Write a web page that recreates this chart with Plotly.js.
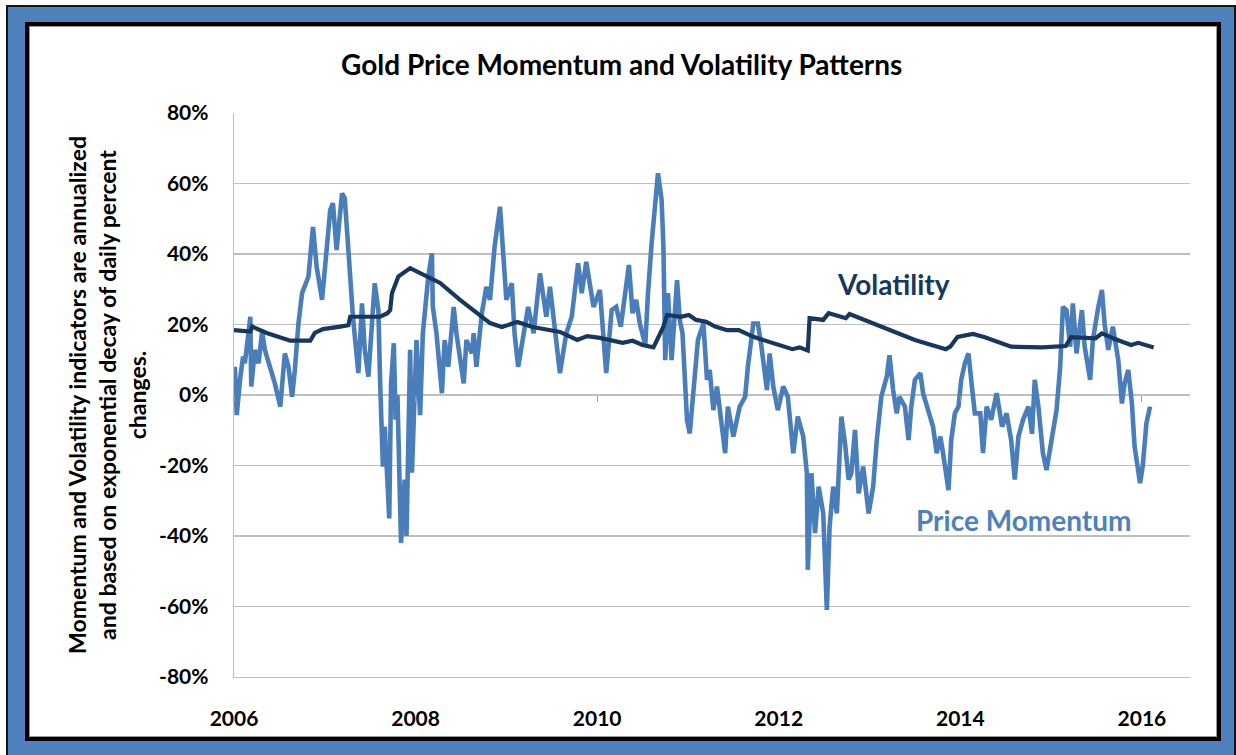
<!DOCTYPE html>
<html>
<head>
<meta charset="utf-8">
<script src="https://cdn.plot.ly/plotly-3.0.1.min.js"></script>
<style>
  html, body { margin:0; padding:0; background:#ffffff; width:1236px; height:755px; overflow:hidden; }
  #outer { position:absolute; left:6px; top:5px; width:1230px; height:800px; box-sizing:border-box;
           background:#4F81BD; border:2px solid #141414; }
  #inner { position:absolute; left:25px; top:22px; width:1196px; height:719px; box-sizing:border-box;
           background:#ffffff; border:4px solid #000000; box-shadow: inset 0 0 0 1px #9a9a9a; }
  #chart { position:absolute; left:0; top:0; width:1236px; height:755px; }
</style>
</head>
<body>
<div id="outer"></div>
<div id="inner"></div>
<div id="chart"></div>
<script>
// ---- data ----
const chartTitle = "Gold Price Momentum and Volatility Patterns";
const yTitleLines = ["Momentum and Volatility indicators are annualized",
                     "and based on exponential decay of daily percent",
                     "changes."];
const seriesNames = ["Price Momentum", "Volatility"];

const momYears = [
  2006.01,2006.03,2006.07,2006.10,2006.12,2006.16,2006.18,2006.19,2006.23,2006.27,2006.31,2006.34,2006.40,2006.45,2006.51,2006.56,2006.60,2006.64,2006.67,2006.71,2006.75,2006.82,2006.87,2006.91,2006.97,
  2007.02,2007.06,2007.09,2007.13,2007.19,2007.22,2007.26,2007.31,2007.37,2007.41,2007.44,2007.48,2007.55,2007.59,2007.61,2007.64,2007.66,2007.71,2007.73,2007.76,2007.78,2007.80,2007.84,2007.86,2007.88,2007.90,2007.92,2007.94,2007.96,2007.99,
  2008.01,2008.05,2008.08,2008.14,2008.18,2008.19,2008.23,2008.29,2008.32,2008.36,2008.42,2008.45,2008.53,2008.56,2008.62,2008.64,2008.67,2008.73,2008.78,2008.82,2008.87,2008.93,2008.97,
  2009.00,2009.06,2009.09,2009.13,2009.19,2009.24,2009.30,2009.37,2009.44,2009.48,2009.54,2009.59,2009.66,2009.72,2009.79,2009.83,2009.88,2009.96,
  2010.03,2010.07,2010.10,2010.16,2010.21,2010.26,2010.35,2010.39,2010.43,2010.47,2010.53,2010.56,2010.60,2010.67,2010.71,2010.73,2010.75,2010.78,2010.82,2010.88,2010.91,2010.94,2010.99,
  2011.02,2011.08,2011.11,2011.17,2011.21,2011.24,2011.28,2011.32,2011.37,2011.41,2011.44,2011.50,2011.57,2011.63,2011.66,2011.72,2011.77,2011.81,2011.87,2011.90,2011.94,2011.99,
  2012.05,2012.10,2012.16,2012.21,2012.27,2012.31,2012.32,2012.36,2012.40,2012.44,2012.49,2012.53,2012.56,2012.60,2012.64,2012.69,2012.73,2012.77,2012.80,2012.84,2012.88,2012.93,2012.99,
  2013.04,2013.08,2013.13,2013.19,2013.22,2013.26,2013.30,2013.33,2013.39,2013.43,2013.46,2013.50,2013.56,2013.59,2013.65,2013.70,2013.74,2013.78,2013.81,2013.87,2013.90,2013.94,2013.98,
  2014.01,2014.05,2014.09,2014.12,2014.16,2014.22,2014.25,2014.29,2014.34,2014.40,2014.46,2014.51,2014.56,2014.60,2014.64,2014.69,2014.75,2014.79,2014.82,2014.86,2014.91,2014.95,
  2015.01,2015.06,2015.10,2015.13,2015.17,2015.21,2015.24,2015.28,2015.34,2015.37,2015.43,2015.46,2015.52,2015.56,2015.59,2015.63,2015.68,2015.74,2015.78,2015.81,2015.85,2015.89,2015.92,2015.98,
  2016.01,2016.05,2016.09
];
const momValues = [
  8.0,-5.7,5.2,10.9,9.0,16.5,22.2,2.4,12.8,9.0,18.0,12.8,8.0,3.3,-3.3,11.8,8.0,-0.5,7.1,20.3,28.9,33.6,47.7,36.4,27.0,
  40.2,52.5,54.4,41.1,57.2,55.8,41.1,22.2,6.2,26.0,12.8,5.2,31.7,24.1,3.3,-20.3,-9.0,-35.0,3.0,14.7,-7.0,0.0,-42.0,-30.0,-24.0,-40.0,-2.4,12.8,-22.0,5.0,
  15.6,-5.7,17.5,33.6,40.2,25.0,17.5,0.5,15.6,8.0,25.0,17.5,3.3,15.6,11.8,17.5,8.0,23.2,30.7,27.0,42.0,53.4,40.2,
  27.0,31.7,17.5,8.0,17.5,25.0,17.5,34.5,22.2,30.7,17.5,6.2,17.5,22.2,37.4,28.9,37.8,25.0,
  29.8,17.5,6.2,24.1,25.0,19.4,36.9,23.2,27.0,20.3,14.2,28.9,43.0,62.9,55.3,42.0,9.9,28.9,9.9,32.6,21.3,17.5,-7.1,
  -10.9,6.2,15.6,20.3,4.3,7.1,-4.3,2.4,-9.0,-16.5,-3.3,-11.8,-3.3,-0.5,8.0,20.3,20.3,13.7,1.4,11.8,2.4,-4.3,
  2.4,-0.5,-16.5,-6.1,-11.8,-22.2,-49.6,-22.2,-39.2,-26.0,-33.6,-61.0,-37.4,-26.0,-33.6,-6.1,-13.7,-24.0,-22.2,-9.9,-27.9,-20.3,-33.6,
  -26.0,-12.8,-0.5,5.2,11.3,1.4,-5.2,-0.5,-3.3,-12.8,-3.3,4.3,6.2,0.5,-4.3,-9.0,-16.5,-11.8,-16.5,-27.0,-12.8,-5.2,-3.3,
  4.3,9.0,11.8,4.3,-5.2,-5.2,-16.5,-3.3,-7.0,0.5,-9.0,-5.2,-12.8,-24.0,-11.8,-7.1,-3.3,-11.0,4.3,-3.3,-16.5,-21.3,
  -12.8,-4.3,8.0,25.0,24.0,13.7,26.0,11.8,24.1,13.7,4.3,15.6,25.0,29.8,20.0,12.8,19.4,9.9,-2.4,3.3,7.1,-2.4,-14.7,-25.0,
  -20.0,-8.0,-3.3
];

const volYears = [
  2006.00,2006.18,2006.20,2006.36,2006.62,2006.84,2006.89,2006.98,
  2007.17,2007.26,2007.28,2007.61,2007.69,2007.72,2007.74,2007.81,2007.94,
  2008.05,2008.27,2008.49,2008.68,2008.82,2008.95,
  2009.12,2009.29,2009.59,2009.78,2009.89,
  2010.03,2010.28,2010.39,2010.50,2010.62,2010.67,2010.73,2010.77,2010.92,
  2011.01,2011.09,2011.20,2011.30,2011.43,2011.56,2011.72,2011.89,
  2012.15,2012.23,2012.32,2012.34,2012.49,2012.55,2012.74,2012.78,2012.99,
  2013.21,2013.50,2013.84,2013.89,2013.97,
  2014.14,2014.27,2014.56,2014.90,
  2015.16,2015.22,2015.49,2015.56,2015.71,2015.88,2015.96,
  2016.13
];
const volValues = [
  18.4,18.0,19.4,17.6,15.4,15.4,17.6,18.7,
  19.4,19.8,22.2,22.2,23.2,24.1,28.9,33.6,36.0,
  34.6,31.8,27.0,23.2,20.4,19.3,
  20.7,19.3,17.9,15.6,16.7,
  16.2,14.8,15.4,14.2,13.5,16.1,19.4,22.7,22.2,
  22.7,21.3,20.8,19.4,18.4,18.4,16.5,15.1,
  13.0,13.5,12.6,21.8,21.3,23.2,21.8,23.0,20.8,
  18.6,15.6,13.0,13.7,16.5,
  17.3,16.4,13.7,13.5,
  13.9,16.4,16.1,17.5,15.8,14.2,14.8,
  13.5
];

const xTickVals = [2006, 2008, 2010, 2012, 2014, 2016];
const xTickText = ["2006", "2008", "2010", "2012", "2014", "2016"];
const yTickVals = [-80, -60, -40, -20, 0, 20, 40, 60, 80];
const yTickText = ["-80%", "-60%", "-40%", "-20%", "0%", "20%", "40%", "60%", "80%"];

// label anchor values (data coordinates)
const volLabelPos = [2013.26, 31.5];
const momLabelPos = [2014.70, -35.5];

// ---- styling ----
const FONT = "Lato, 'Open Sans', 'DejaVu Sans', sans-serif";
const momColor = "#4A7EBB";
const volColor = "#17375E";
const gridColor = "#BFBFBF";
const xRange = [2006, 2016.53];

const traces = [
  { type: "scatter", mode: "lines", name: seriesNames[0], x: momYears, y: momValues,
    line: { color: momColor, width: 4.6, shape: "linear" }, xaxis: "x", yaxis: "y", hoverinfo: "skip" },
  { type: "scatter", mode: "lines", name: seriesNames[1], x: volYears, y: volValues,
    line: { color: volColor, width: 4.2 }, xaxis: "x2", yaxis: "y", hoverinfo: "skip" }
];

const layout = {
  width: 1236, height: 755,
  margin: { l: 234, r: 46, t: 113, b: 78, pad: 0 },
  paper_bgcolor: "rgba(0,0,0,0)",
  plot_bgcolor: "#ffffff",
  showlegend: false,
  font: { family: FONT, color: "#000000" },
  title: { text: chartTitle, xref: "container", yref: "container", x: 0.503, y: 0.914,
           xanchor: "center", yanchor: "middle",
           font: { family: FONT, size: 28, weight: 700, color: "#000000" } },
  xaxis: {
    range: xRange, tickmode: "array", tickvals: xTickVals, ticktext: xTickText,
    showgrid: false, zeroline: false, ticks: "", showline: true, linecolor: gridColor, linewidth: 1.3,
    ticklabelstandoff: 22,
    tickfont: { family: FONT, size: 21, weight: 700, color: "#000000" }
  },
  xaxis2: {
    range: xRange, overlaying: "x", anchor: "free", position: 0.5, side: "bottom",
    tickmode: "array", tickvals: xTickVals, showticklabels: false,
    showgrid: false, zeroline: false, showline: false,
    ticks: "outside", ticklen: 6, tickwidth: 1.2, tickcolor: "#9a9a9a"
  },
  yaxis: {
    range: [-80, 80], tickmode: "array", tickvals: yTickVals, ticktext: yTickText,
    showgrid: true, gridcolor: gridColor, gridwidth: 1.3, zeroline: false,
    showline: true, linecolor: gridColor, linewidth: 1.3, ticks: "",
    ticklabelstandoff: 20,
    tickfont: { family: FONT, size: 21, weight: 700, color: "#000000" },
    title: { text: yTitleLines.join("<br>"), standoff: 6,
             font: { family: FONT, size: 23, weight: 700, color: "#000000" } }
  },
  annotations: [
    { text: seriesNames[1], x: volLabelPos[0], y: volLabelPos[1], xref: "x", yref: "y",
      showarrow: false, xanchor: "center", yanchor: "middle",
      font: { family: FONT, size: 28, weight: 700, color: volColor } },
    { text: seriesNames[0], x: momLabelPos[0], y: momLabelPos[1], xref: "x", yref: "y",
      showarrow: false, xanchor: "center", yanchor: "middle",
      font: { family: FONT, size: 28, weight: 700, color: "#4F81BD" } }
  ]
};

Plotly.newPlot("chart", traces, layout, { displayModeBar: false, staticPlot: true });
</script>
</body>
</html>
